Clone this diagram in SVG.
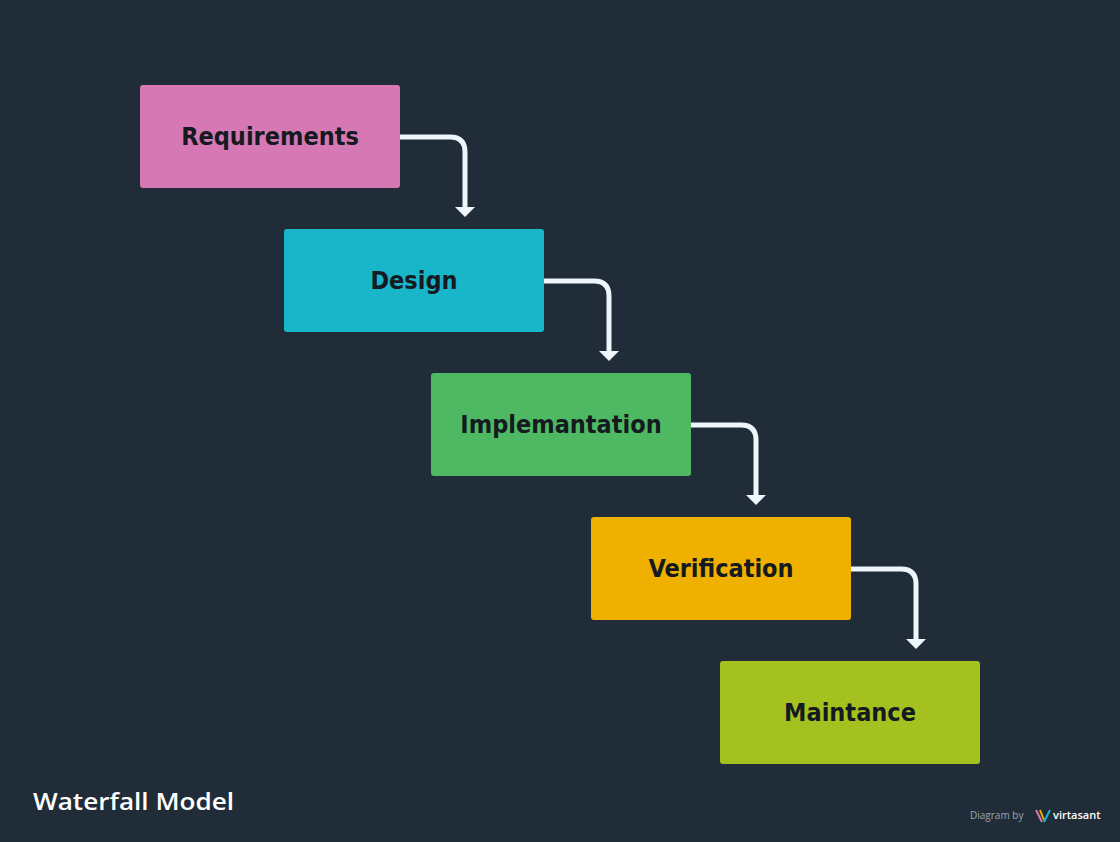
<svg xmlns="http://www.w3.org/2000/svg" width="1120" height="842" viewBox="0 0 1120 842">
<style>
.n text{font-family:"DejaVu Sans Condensed","DejaVu Sans",sans-serif;font-weight:bold;font-size:25px;fill:#141a1f;text-anchor:middle;dominant-baseline:central}
.c path{fill:none;stroke:#eef6fc;stroke-width:5}
.c polygon{fill:#eef6fc}
</style>
<rect width="1120" height="842" fill="#202d38"/>
<g class="c">
<path d="M400 137H450Q465 137 465 152V208"/><polygon points="455,207 475,207 465,217"/>
<path d="M544 281H594Q609 281 609 296V352"/><polygon points="599,351 619,351 609,361"/>
<path d="M691 425H741Q756 425 756 440V496"/><polygon points="746,495 766,495 756,505"/>
<path d="M851 569H901Q916 569 916 584V640"/><polygon points="906,639 926,639 916,649"/>
</g>
<g id="requirements" class="n"><rect x="140" y="85" width="260" height="103" rx="3" fill="#d578b3"/><text x="270" y="136">Requirements</text></g>
<g id="design" class="n"><rect x="284" y="229" width="260" height="103" rx="3" fill="#19b5c8"/><text x="414" y="280">Design</text></g>
<g id="implementation" class="n"><rect x="431" y="373" width="260" height="103" rx="3" fill="#4fb862"/><text x="561" y="424">Implemantation</text></g>
<g id="verification" class="n"><rect x="591" y="517" width="260" height="103" rx="3" fill="#efb000"/><text x="721" y="568">Verification</text></g>
<g id="maintance" class="n"><rect x="720" y="661" width="260" height="103" rx="3" fill="#a4c120"/><text x="850" y="712">Maintance</text></g>
<text x="33" y="810" font-family="Open Sans,sans-serif" font-weight="600" font-size="23" fill="#ffffff" textLength="201" lengthAdjust="spacingAndGlyphs">Waterfall Model</text>
<text x="970" y="819" font-family="Open Sans,sans-serif" font-size="10" fill="#9aa4ad">Diagram by</text>
<g stroke-width="2" fill="none"><path d="M1036 810L1042 822" stroke="#d578b3"/><path d="M1040 810L1044 820" stroke="#efb000"/><path d="M1044 822L1050 810" stroke="#19b5c8"/></g>
<text x="1053" y="819" font-family="Open Sans,sans-serif" font-weight="600" font-size="11" fill="#ffffff">virtasant</text>
</svg>
